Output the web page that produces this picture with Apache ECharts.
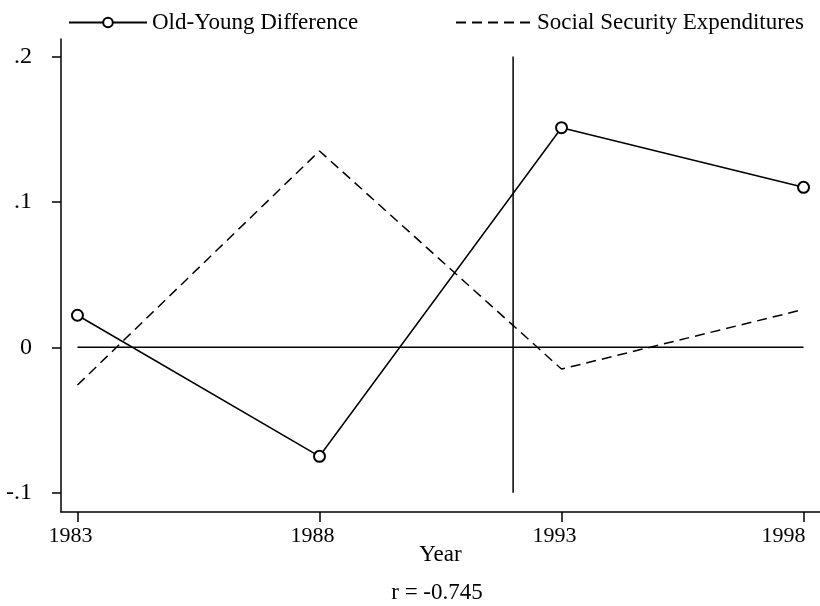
<!DOCTYPE html>
<html>
<head>
<meta charset="utf-8">
<script src="https://cdn.jsdelivr.net/npm/echarts@6/dist/echarts.min.js"></script>
<style>html,body{margin:0;padding:0;background:#fff}#c{width:820px;height:606px}</style>
</head>
<body>
<div id="c"></div>
<script>
var years = [1983, 1988, 1993, 1998];
var oldYoungDiff = [0.022, -0.075, 0.151, 0.110];
var socialSecurity = [-0.026, 0.135, -0.015, 0.026];
var zeroLineYears = [1983, 1998];
var zeroLineValues = [0, 0];
var breakYear = [1992, 1992];
var breakValues = [-0.1, 0.2];
var xTicks = [1983, 1988, 1993, 1998];
var yTicks = [-0.1, 0, 0.1, 0.2];
var yTickLabels = ['-.1', '0', '.1', '.2'];
var corrText = 'r = -0.745';

var FONT = '"Liberation Serif", "Times New Roman", serif';
function pairs(xs, ys) { return xs.map(function (x, i) { return [x, ys[i]]; }); }

var chart = echarts.init(document.getElementById('c'), null, {renderer: 'canvas'});
chart.setOption({
  animation: false,
  backgroundColor: '#fff',
  textStyle: {fontFamily: FONT, color: '#000'},
  grid: {left: 61, right: 0, top: 39, bottom: 94, containLabel: false, outerBoundsMode: 'none'},
  legend: [{
    left: 63, top: 6, itemWidth: 78, itemHeight: 12,
    textStyle: {fontFamily: FONT, fontSize: 23, color: '#000'},
    data: [{name: 'Old-Young Difference'}]
  }, {
    left: 450, top: 6, itemWidth: 76, itemHeight: 12,
    textStyle: {fontFamily: FONT, fontSize: 23, color: '#000'},
    data: [{name: 'Social Security Expenditures', itemStyle: {opacity: 0}}]
  }],
  xAxis: {
    type: 'value', min: 1982.66, max: 1998.34,
    name: 'Year', nameLocation: 'middle', nameGap: 31, nameMoveOverlap: false,
    nameTextStyle: {fontFamily: FONT, fontSize: 23, color: '#000'},
    axisLine: {show: true, onZero: false, lineStyle: {color: '#000', width: 1.5}},
    axisTick: {show: true, length: 10, customValues: xTicks, lineStyle: {color: '#000', width: 1.5}},
    axisLabel: {
      show: true, customValues: xTicks, margin: 13,
      fontFamily: FONT, fontSize: 22, color: '#000',
      formatter: function (v) {
        var y = Math.round(v);
        return y === 1998 ? '{e|' + y + '}' : '{n|' + y + '}';
      },
      rich: {
        n: {fontFamily: FONT, fontSize: 22, color: '#000', padding: [0, 14, 0, 0]},
        e: {fontFamily: FONT, fontSize: 22, color: '#000', padding: [0, 40, 0, 0]}
      }
    },
    splitLine: {show: false}
  },
  yAxis: {
    type: 'value', min: -0.1133, max: 0.212,
    axisLine: {show: true, onZero: false, lineStyle: {color: '#000', width: 1.5}},
    axisTick: {show: true, length: 9, customValues: yTicks, lineStyle: {color: '#000', width: 1.5}},
    axisLabel: {
      show: true, customValues: yTicks, margin: 29,
      fontFamily: FONT, fontSize: 24, color: '#000',
      formatter: function (v) {
        for (var i = 0; i < yTicks.length; i++) {
          if (Math.abs(yTicks[i] - v) < 1e-6) return yTickLabels[i];
        }
        return '';
      }
    },
    splitLine: {show: false}
  },
  series: [{
    name: 'Old-Young Difference', type: 'line',
    data: pairs(years, oldYoungDiff),
    symbol: 'emptyCircle', symbolSize: 11, showSymbol: true,
    lineStyle: {color: '#000', width: 1.5},
    itemStyle: {color: '#000', borderColor: '#000', borderWidth: 1.5},
    z: 3
  }, {
    name: 'Social Security Expenditures', type: 'line',
    data: pairs(years, socialSecurity),
    symbol: 'none', showSymbol: false,
    lineStyle: {color: '#000', width: 1.5, type: [10, 6]},
    itemStyle: {color: '#000'},
    z: 3
  }, {
    name: 'zero', type: 'line', data: pairs(zeroLineYears, zeroLineValues),
    symbol: 'none', lineStyle: {color: '#000', width: 1.5}, silent: true, z: 2
  }, {
    name: 'break', type: 'line', data: pairs(breakYear, breakValues),
    symbol: 'none', lineStyle: {color: '#000', width: 1.5}, silent: true, z: 2
  }],
  graphic: [{
    type: 'text', x: 437, y: 593,
    style: {text: corrText, font: '23px ' + FONT, fill: '#000', align: 'center', verticalAlign: 'middle'}
  }]
});
</script>
</body>
</html>
